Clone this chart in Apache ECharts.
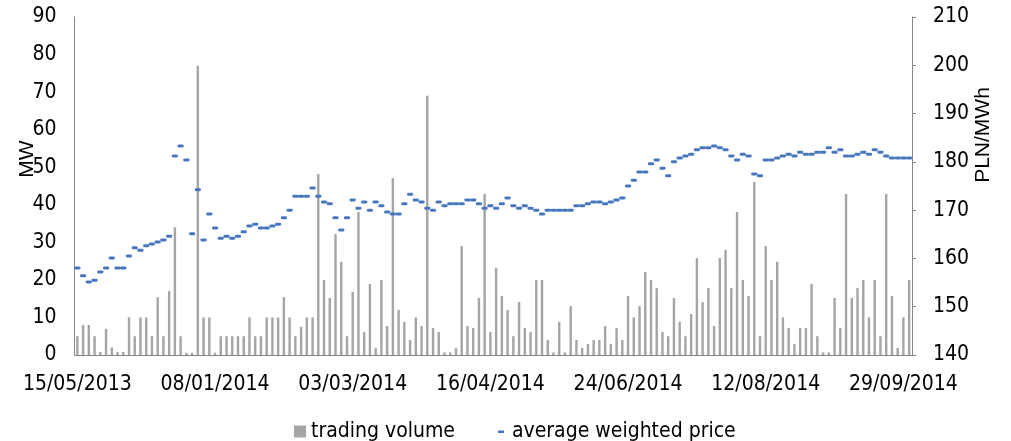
<!DOCTYPE html>
<html>
<head>
<meta charset="utf-8">
<title>trading volume and average weighted price</title>
<script src="https://cdn.jsdelivr.net/npm/echarts@6/dist/echarts.min.js"></script>
<style>
  html, body { margin: 0; padding: 0; background: #fff; }
  #chart { width: 1011px; height: 441px; }
</style>
</head>
<body>
<div id="chart"></div>
<script>
// tick labels on the date axis, one every 24 trading days
var tickLabels = ["15/05/2013", "08/01/2014", "03/03/2014", "16/04/2014", "24/06/2014", "12/08/2014", "29/09/2014"];
var labelStep = 24;

// trading volume, MW (left axis)
var volume = [
	5, 8, 8, 5, 0.8, 7, 2, 0.8, 0.8, 10,
	5, 10, 10, 5, 15.4, 5, 17, 34, 5, 0.6,
	0.6, 77, 10, 10, 0.6, 5, 5, 5, 5, 5,
	10, 5, 5, 10, 10, 10, 15.4, 10, 5, 7.5,
	10, 10, 48.2, 20, 15.2, 32.2, 24.8, 5, 16.8, 38.1,
	6.1, 18.9, 1.9, 20, 7.7, 47.1, 12, 8.8, 4, 10,
	7.7, 69, 7.2, 6.1, 0.7, 0.7, 1.9, 29, 7.7, 7.2,
	15.2, 42.9, 6.1, 23.2, 15.7, 12, 5, 14.1, 7.2, 6.1,
	20, 20, 4, 0.7, 8.8, 0.7, 13, 4, 1.9, 2.9,
	4, 4, 7.7, 2.9, 7.2, 4, 15.7, 10, 13, 22.1,
	20, 17.8, 6.1, 5, 15.2, 8.8, 5, 10.9, 25.8, 14.1,
	17.8, 7.7, 25.8, 28, 17.8, 38.1, 20, 15.7, 46.1, 5,
	29, 20, 24.8, 10, 7.2, 2.9, 7.2, 7.2, 18.9, 5,
	0.7, 0.7, 15.2, 7.2, 42.9, 15.2, 17.8, 20, 10, 20,
	5, 42.9, 15.7, 1.9, 10, 20
];

// average weighted price, PLN/MWh (right axis)
var price = [
	158.0, 156.4, 155.1, 155.5, 157.2, 158.0, 160.1, 158.0, 158.0, 160.5,
	162.2, 161.7, 162.6, 163.0, 163.4, 163.8, 164.6, 181.2, 183.3, 180.4,
	165.1, 174.2, 163.8, 169.2, 166.3, 164.2, 164.6, 164.2, 164.6, 165.5,
	166.7, 167.1, 166.3, 166.3, 166.7, 167.1, 168.4, 170.0, 172.9, 172.9,
	172.9, 174.6, 172.9, 171.7, 171.3, 168.4, 165.9, 168.4, 172.1, 170.4,
	171.7, 170.0, 171.7, 170.9, 169.6, 169.2, 169.2, 171.3, 173.3, 172.1,
	171.7, 170.4, 170.0, 171.7, 170.9, 171.3, 171.3, 171.3, 172.1, 172.1,
	171.3, 170.4, 170.9, 170.4, 171.3, 172.5, 170.9, 170.4, 170.9, 170.4,
	170.0, 169.2, 170.0, 170.0, 170.0, 170.0, 170.0, 170.9, 170.9, 171.3,
	171.7, 171.7, 171.3, 171.7, 172.1, 172.5, 175.0, 176.2, 177.9, 177.9,
	179.6, 180.4, 178.7, 177.1, 180.0, 180.8, 181.2, 181.6, 182.5, 182.9,
	182.9, 183.3, 182.9, 182.5, 181.2, 180.4, 181.6, 181.2, 177.5, 177.1,
	180.4, 180.4, 180.8, 181.2, 181.6, 181.2, 182.0, 181.6, 181.6, 182.0,
	182.0, 182.9, 182.0, 182.5, 181.2, 181.2, 181.6, 182.0, 181.6, 182.5,
	182.0, 181.2, 180.8, 180.8, 180.8, 180.8
];

var fontName = '"DejaVu Sans Condensed", "Liberation Sans", sans-serif';
var axisGray = "#868686";

// trading day index on the category axis
var days = [];
for (var i = 0; i < volume.length; i++) {
	days.push(String(i));
}

var myChart = echarts.init(document.getElementById("chart"));

myChart.setOption({
	animation: false,
	textStyle: { fontFamily: fontName },
	grid: { left: 74.5, right: 99, top: 17, bottom: 86 },
	legend: {
		left: 289,
		top: 416,
		itemGap: 40,
		itemWidth: 12,
		itemHeight: 12,
		textStyle: { fontSize: 21, color: "#000", fontFamily: fontName },
		data: [
			{ name: "trading volume", icon: "rect" },
			{ name: "average weighted price", icon: "path://M0,0L0,0M12,12L12,12M3,5L9,5L9,7.5L3,7.5Z" }
		]
	},
	xAxis: {
		type: "category",
		data: days,
		boundaryGap: true,
		axisLine: { lineStyle: { color: axisGray, width: 1 } },
		axisTick: { show: false },
		axisLabel: {
			interval: labelStep - 1,
			margin: 19,
			fontSize: 21,
			color: "#000",
			fontFamily: fontName,
			formatter: function(value, index) {
				return tickLabels[index / labelStep] || "";
			}
		},
		splitLine: { show: false }
	},
	yAxis: [{
		type: "value",
		min: 0,
		max: 90,
		interval: 10,
		axisLine: { show: true, lineStyle: { color: axisGray, width: 1 } },
		axisTick: { show: false },
		axisLabel: { margin: 18, fontSize: 21, color: "#000", fontFamily: fontName },
		splitLine: { show: false }
	}, {
		type: "value",
		min: 140,
		max: 210,
		interval: 10,
		position: "right",
		axisLine: { show: true, lineStyle: { color: axisGray, width: 1 } },
		axisTick: { show: true, inside: false, length: 4, lineStyle: { color: axisGray } },
		axisLabel: { margin: 21, fontSize: 21, color: "#000", fontFamily: fontName },
		splitLine: { show: false }
	}],
	graphic: [{
		type: "text",
		x: 27,
		y: 159,
		rotation: Math.PI / 2,
		style: { text: "MW", fontSize: 21, fill: "#000", font: "21px " + fontName, align: "center", verticalAlign: "middle" }
	}, {
		type: "text",
		x: 983,
		y: 135,
		rotation: Math.PI / 2,
		style: { text: "PLN/MWh", fontSize: 21, fill: "#000", font: "21px " + fontName, align: "center", verticalAlign: "middle" }
	}],
	series: [{
		name: "trading volume",
		type: "bar",
		yAxisIndex: 0,
		barWidth: "42%",
		itemStyle: { color: "#A5A5A5" },
		data: volume
	}, {
		name: "average weighted price",
		type: "scatter",
		yAxisIndex: 1,
		symbol: "roundRect",
		symbolSize: [6, 3],
		itemStyle: { color: "#4776BE", opacity: 1 },
		data: price
	}]
});
</script>
</body>
</html>
